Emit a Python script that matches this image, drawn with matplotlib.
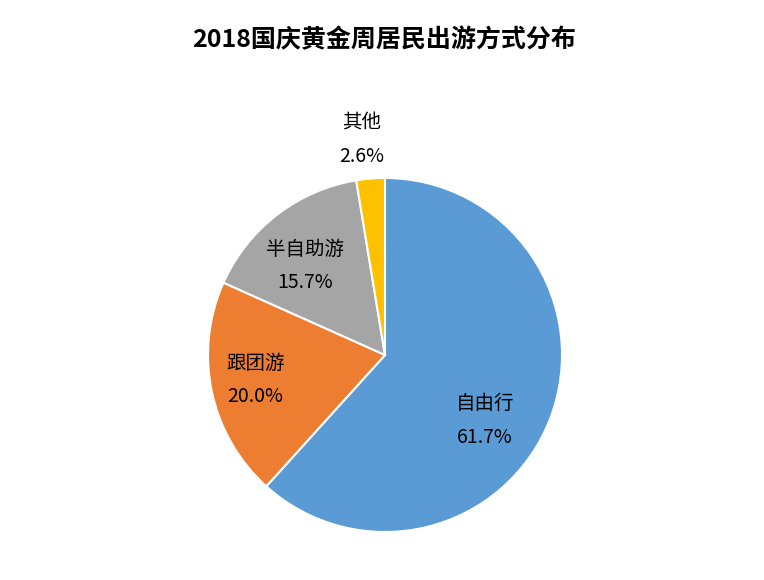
import matplotlib
matplotlib.use("Agg")
import matplotlib.pyplot as plt

plt.rcParams['font.family'] = ['Noto Sans CJK SC', 'DejaVu Sans']

categories = ['自由行', '跟团游', '半自助游', '其他']
values = [61.7, 20.0, 15.7, 2.6]
colors = ['#5B9BD5', '#ED7D31', '#A5A5A5', '#FFC000']
title = '2018国庆黄金周居民出游方式分布'

# label centre positions in pie-radius units
label_pos = [(0.565, -0.37), (-0.734, -0.141), (-0.452, 0.503), (-0.13, 1.215)]

fig = plt.figure(figsize=(7.64, 5.80), dpi=100)
cx, cy, r = 385, 355, 177
W, H = 764, 580
ax = fig.add_axes([(cx - r) / W, (H - cy - r) / H, 2 * r / W, 2 * r / H])
ax.pie(values, colors=colors, startangle=90, counterclock=False, radius=1,
       wedgeprops=dict(edgecolor='white', linewidth=1.5))
ax.set_xlim(-1, 1)
ax.set_ylim(-1, 1)
ax.set_aspect('equal')
ax.axis('off')

for cat, v, (x, y) in zip(categories, values, label_pos):
    ax.text(x, y + 0.095, cat, ha='center', va='center', fontsize=14, color='#000000')
    ax.text(x, y - 0.095, f'{v:.1f}%', ha='center', va='center', fontsize=14, color='#000000')

fig.text(0.503, 1 - 40 / H, title, ha='center', va='center', fontsize=18, fontweight='bold')

fig.savefig('out.png', dpi=100)
